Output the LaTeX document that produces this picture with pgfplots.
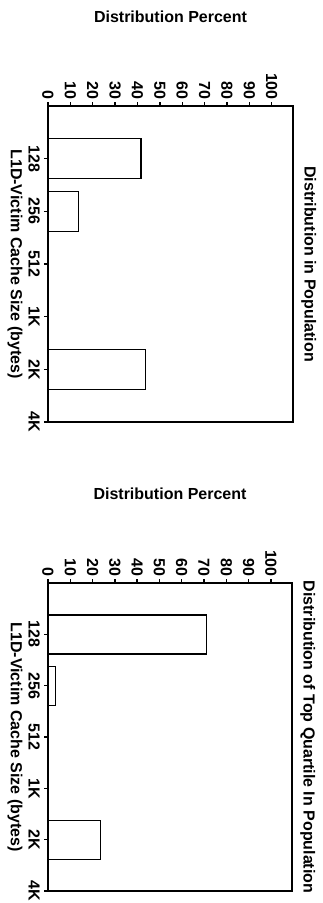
\documentclass[border=0pt]{standalone}
\usepackage{fontspec}
\setmainfont{Liberation Sans}
\usepackage{pgfplots}
\pgfplotsset{compat=1.18}
\newcommand{\cf}{\fontsize{12}{14}\selectfont\bfseries}
\pgfplotsset{
 mystyle/.style={
  scale only axis,
  xbar, bar width=0.76,
  xmin=0, xmax=109.5,
  ymin=0, ymax=6, y dir=reverse,
  xtick={0,10,...,100},
  ytick={1,...,6},
  yticklabels={128,256,512,1K,2K,4K},
  xtick pos=right, xticklabel pos=right,
  ytick pos=left, yticklabel pos=left,
  tick align=outside,
  major tick length=3pt,
  every tick/.style={black, line width=1pt},
  axis line style={line width=1.2pt},
  /pgf/number format/assume math mode=true,
  xticklabel style={font=\cf, rotate=-90, anchor=east, inner sep=1.5pt},
  yticklabel style={font=\cf, rotate=-90, anchor=north, inner sep=3pt},
  every axis x label/.style={font=\cf, at={(axis description cs:0.5,1)}, anchor=center, yshift=66.75pt},
  every axis y label/.style={font=\cf, at={(axis description cs:0,0.5)}, xshift=-19pt, rotate=-90, anchor=north, inner sep=0pt},
  every axis title/.style={font=\cf, at={(axis description cs:1,0.5)}, xshift=6pt, rotate=-90, anchor=south, inner sep=0pt},
  ylabel={L1D-Victim Cache Size (bytes)},
  xlabel={Distribution Percent},
 }
}
\begin{document}
\begin{tikzpicture}
\begin{axis}[mystyle, width=183.75pt, height=237pt, anchor=north west, at={(36pt,-79.5pt)},
  title={Distribution in Population}]
\addplot[xbar, fill=white, draw=black, line width=1pt] coordinates {(41.5,1) (13.5,2) (43.5,5)};
\end{axis}
\begin{axis}[mystyle, width=183pt, height=231pt, anchor=north west, at={(36pt,-437.25pt)},
  title={Distribution of Top Quartile In Population}]
\addplot[xbar, fill=white, draw=black, line width=1pt] coordinates {(71,1) (3.5,2) (23.5,5)};
\end{axis}
\pgfresetboundingbox
\path[use as bounding box] (0,0) rectangle (241.5pt,-677.25pt);
\end{tikzpicture}
\end{document}
